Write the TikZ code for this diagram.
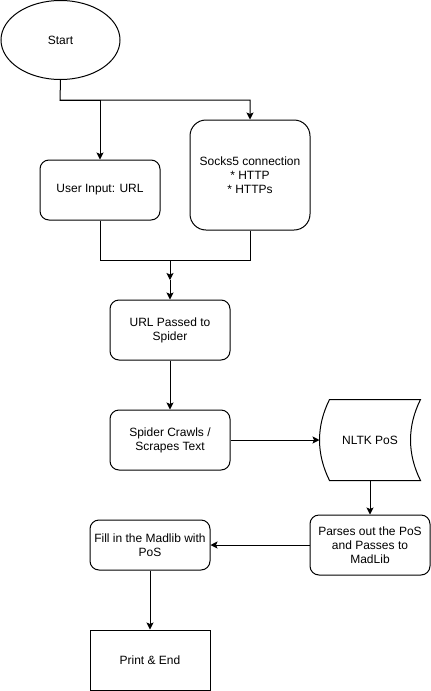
\documentclass[tikz,border=0pt]{standalone}
\usepackage{fontspec}
\setmainfont{Liberation Sans}
\usetikzlibrary{arrows.meta,shapes.geometric}

\begin{document}
\begin{tikzpicture}[x=1pt,y=-1pt,
  line width=1pt,>={Stealth[length=7pt,width=7pt,inset=1.5pt]},
  main node/.style={rectangle,draw,rounded corners=9pt,font=\fontsize{12}{14}\selectfont,align=center,minimum width=120pt,minimum height=60pt,inner sep=0pt}]

  \useasboundingbox (0,0) rectangle (431,691);

  \node[main node,ellipse,minimum width=119pt,minimum height=79pt] (1) at (60.5,40) {Start};
  \node[main node] (2) at (100,190) {User Input: URL};
  \node[main node,minimum height=110pt,rounded corners=16pt] (3) at (250,175) {Socks5 connection\\* HTTP\\* HTTPs};
  \node[main node] (4) at (170,330) {URL Passed to\\Spider};
  \node[main node] (5) at (170,440) {Spider Crawls /\\Scrapes Text};
  \node[main node,draw=none,minimum width=100pt,minimum height=80pt] (6) at (370,440) {NLTK PoS};
  \node[main node] (7) at (370,545) {Parses out the PoS\\and Passes to\\MadLib};
  \node[main node,minimum height=50pt] (8) at (150,545) {Fill in the Madlib with\\PoS};
  \node[main node,rounded corners=0pt] (9) at (150,660) {Print \& End};

  % stored data outline
  \draw ([xshift=10pt]6.north west) -- (6.north east)
    .. controls +(-13.3,26.7) and +(-13.3,-26.7) .. (6.south east)
    -- ([xshift=10pt]6.south west)
    .. controls +(-13.3,-26.7) and +(-13.3,26.7) .. ([xshift=10pt]6.north west) -- cycle;

  \coordinate (a) at (60,100);
  \coordinate (b) at (170,260);
  \coordinate (c) at (170,280);

  \draw[->] (1.south) -- (a) -| (3.north);
  \draw[->] (a) -| (2.north);
  \draw (2.south) |- (b);
  \draw (3.south) |- (b);
  \draw[->] (b) -- (c);
  \draw[->] (c) -- (4.north);

  \path[->]
   (4) edge (5)
   (5) edge (6)
   (6) edge (7)
   (7) edge (8)
   (8) edge (9);
\end{tikzpicture}
\end{document}
